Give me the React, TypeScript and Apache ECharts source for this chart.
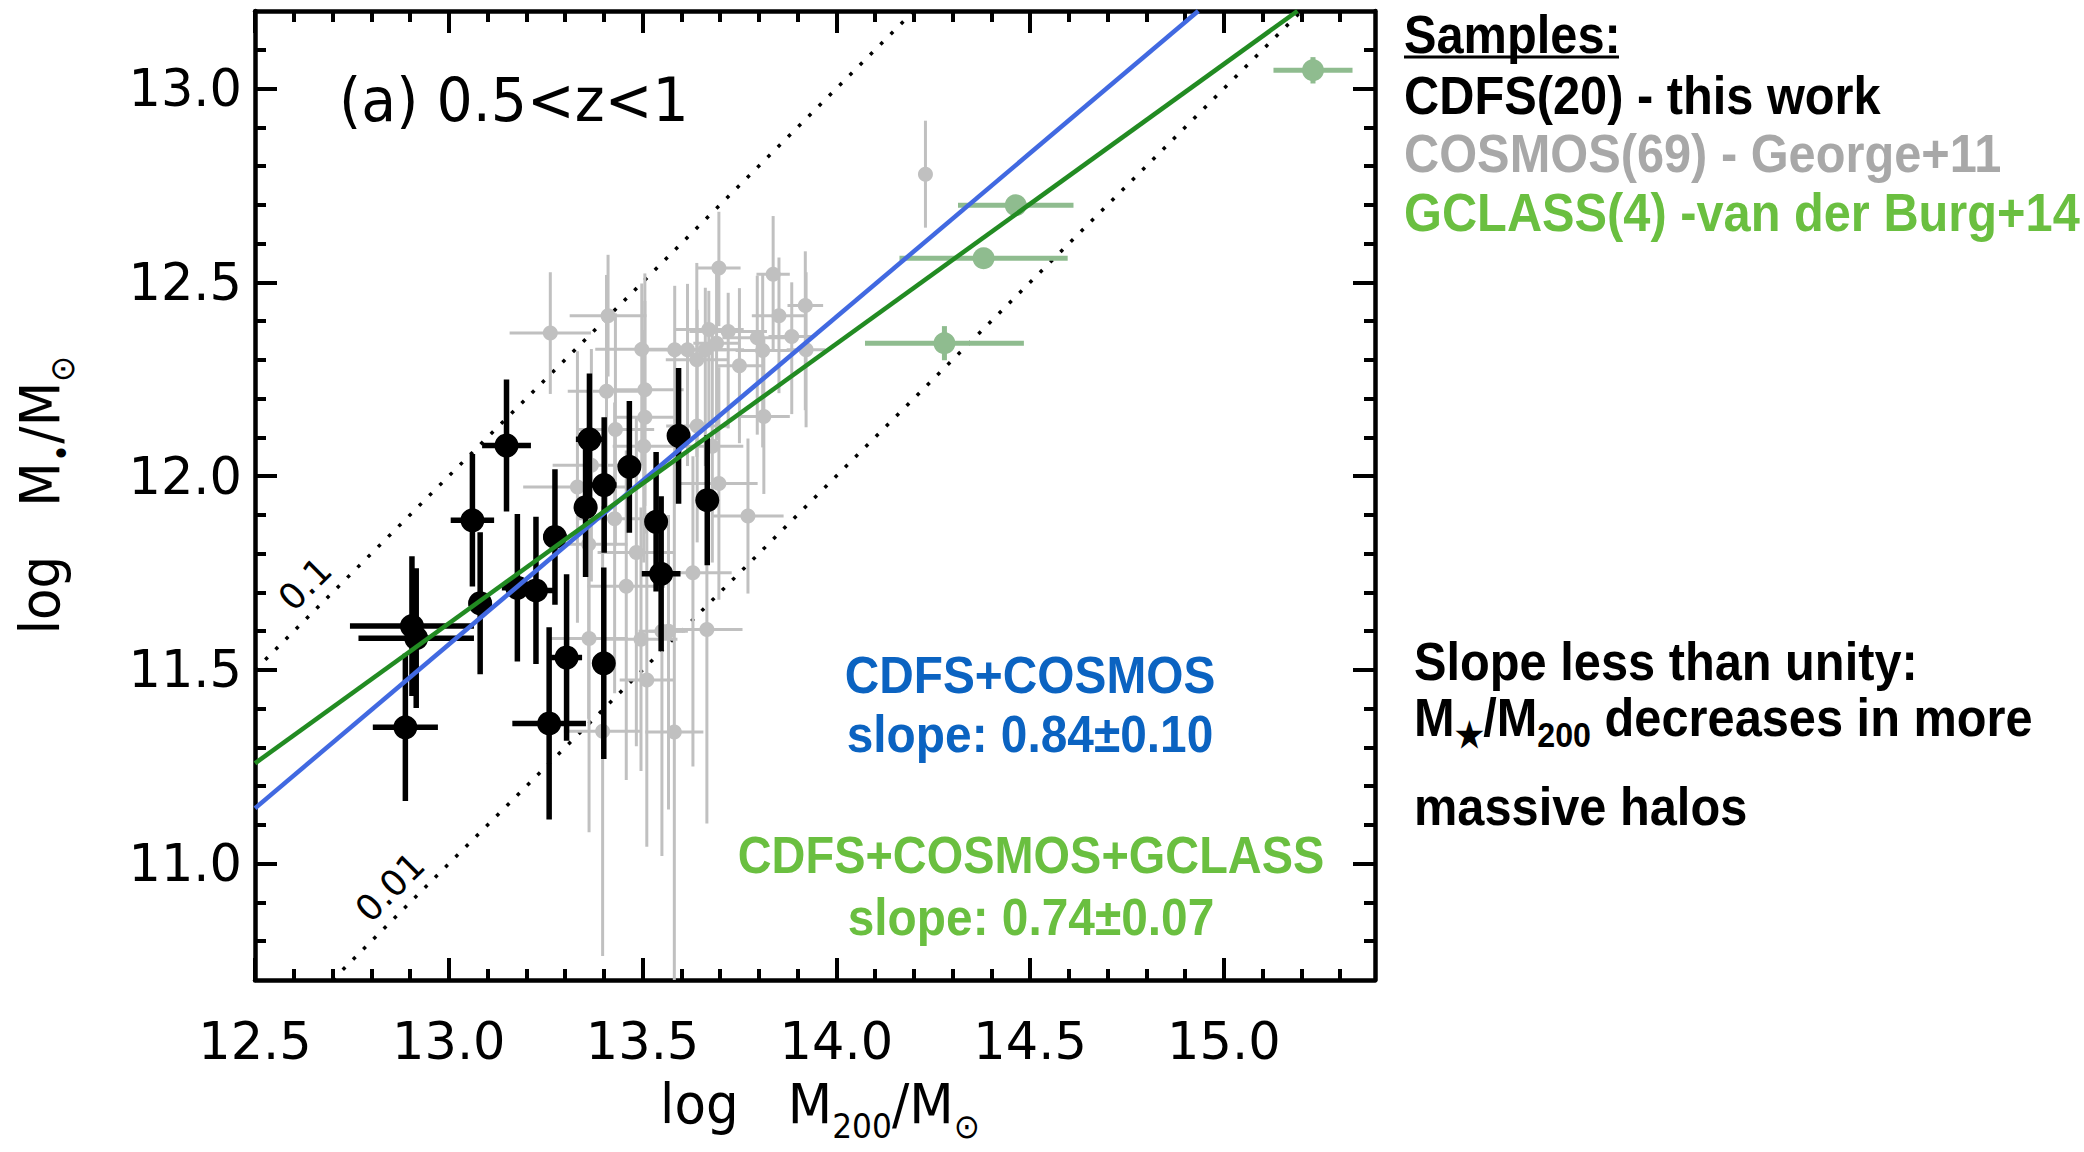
import React, { useEffect, useRef } from 'react';
import * as echarts from 'echarts';

// ---------- axes ----------
const X_MIN = 12.5;
const X_MAX = 15.39;
const Y_MIN = 10.7;
const Y_MAX = 13.2;
const xMajorTicks = [12.5, 13.0, 13.5, 14.0, 14.5, 15.0];
const xMinorTicks = [12.6, 12.7, 12.8, 12.9, 13.1, 13.2, 13.3, 13.4, 13.6, 13.7, 13.8, 13.9, 14.1, 14.2, 14.3, 14.4, 14.6, 14.7, 14.8, 14.9, 15.1, 15.2, 15.3];
const yMajorTicks = [11.0, 11.5, 12.0, 12.5, 13.0];
const yMinorTicks = [10.8, 10.9, 11.1, 11.2, 11.3, 11.4, 11.6, 11.7, 11.8, 11.9, 12.1, 12.2, 12.3, 12.4, 12.6, 12.7, 12.8, 12.9, 13.1];

// ---------- CDFS (this work) ----------
const cdfsX = [13.149, 13.061, 13.363, 13.353, 13.401, 13.466, 13.593, 13.535, 13.548, 13.667, 13.274, 13.225, 13.177, 13.081, 12.905, 12.916, 12.888, 13.304, 13.400, 13.259];
const cdfsY = [12.079, 11.886, 12.095, 11.920, 11.977, 12.024, 12.104, 11.882, 11.748, 11.938, 11.843, 11.705, 11.712, 11.672, 11.613, 11.582, 11.352, 11.532, 11.517, 11.362];
const cdfsXErr = [0.063, 0.056, 0.035, 0.03, 0.032, 0.02, 0.02, 0.02, 0.05, 0.01, 0.03, 0.05, 0.04, 0.03, 0.16, 0.149, 0.084, 0.04, 0.01, 0.095];
const cdfsYErr = [0.17, 0.171, 0.17, 0.18, 0.175, 0.17, 0.175, 0.18, 0.2, 0.168, 0.175, 0.19, 0.19, 0.183, 0.18, 0.18, 0.19, 0.215, 0.247, 0.248];

// ---------- COSMOS (George+11) ----------
const cosmosX = [13.262, 13.411, 13.697, 13.837, 13.920, 13.852, 13.671, 13.721, 13.796, 13.885, 13.498, 13.583, 13.616, 13.662, 13.691, 13.810, 13.922, 13.750, 13.407, 13.506, 13.506, 13.813, 13.430, 13.641, 13.332, 13.368, 13.697, 13.428, 13.361, 13.484, 13.458, 13.630, 13.362, 13.496, 13.666, 13.511, 13.397, 13.582, 13.772, 14.230, 13.503, 13.640, 13.680, 13.550, 13.567];
const cosmosY = [12.369, 12.414, 12.537, 12.521, 12.440, 12.414, 12.378, 12.373, 12.357, 12.360, 12.327, 12.326, 12.326, 12.326, 12.343, 12.324, 12.326, 12.285, 12.219, 12.223, 12.152, 12.154, 12.120, 12.129, 11.972, 12.028, 11.981, 11.890, 11.824, 11.803, 11.716, 11.751, 11.581, 11.579, 11.604, 11.474, 11.342, 11.340, 11.897, 12.779, 12.077, 12.300, 12.077, 11.600, 11.600];
const cosmosXErr = [0.105, 0.099, 0.056, 0.043, 0.046, 0.07, 0.09, 0.1, 0.09, 0.06, 0.12, 0.1, 0.1, 0.1, 0.06, 0.07, 0.05, 0.06, 0.1, 0.1, 0.08, 0.067, 0.1, 0.08, 0.14, 0.1, 0.1, 0.1, 0.1, 0.1, 0.1, 0.1, 0.1, 0.094, 0.092, 0.07, 0.1, 0.075, 0.092, 0.01, 0.08, 0.08, 0.08, 0.06, 0.05];
const cosmosYErrLo = [0.157, 0.157, 0.15, 0.2, 0.27, 0.2, 0.25, 0.25, 0.25, 0.2, 0.3, 0.3, 0.3, 0.3, 0.25, 0.25, 0.2, 0.2, 0.3, 0.3, 0.3, 0.2, 0.3, 0.3, 0.35, 0.3, 0.3, 0.45, 0.45, 0.5, 0.5, 0.5, 0.5, 0.34, 0.5, 0.43, 0.58, 0.7, 0.2, 0.138, 0.3, 0.25, 0.3, 0.58, 0.46];
const cosmosYErrHi = [0.157, 0.157, 0.145, 0.15, 0.14, 0.15, 0.1, 0.1, 0.16, 0.14, 0.17, 0.165, 0.17, 0.16, 0.2, 0.2, 0.2, 0.2, 0.3, 0.3, 0.3, 0.2, 0.3, 0.3, 0.35, 0.3, 0.3, 0.3, 0.3, 0.35, 0.35, 0.3, 0.4, 0.34, 0.35, 0.43, 0.58, 0.7, 0.2, 0.138, 0.3, 0.25, 0.3, 0.3, 0.3];

// ---------- GCLASS (van der Burg+14) ----------
const gclassX = [15.230, 14.463, 14.380, 14.279];
const gclassY = [13.047, 12.699, 12.562, 12.343];
const gclassXErr = [0.102, 0.149, 0.217, 0.205];
const gclassYErr = [0.034, 0.02, 0.02, 0.044];

// ---------- lines ----------
const fitCosmosLine = [[12.5, 11.143], [14.934, 13.2]];
const fitAllLine = [[12.5, 11.259], [15.19, 13.2]];
const ratio01Line = [[12.5, 11.5], [14.2, 13.2]];
const ratio001Line = [[12.7, 10.7], [15.2, 13.2]];

const TICK_FONT = 'DejaVu Sans';
const TEXT_FONT = 'Liberation Sans';

function errRender(color: string, width: number) {
  return (params: any, api: any) => {
    const x = api.value(0);
    const y = api.value(1);
    const xe = api.value(2);
    const ylo = api.value(3);
    const yhi = api.value(4);
    const cs = params.coordSys;
    const cx = (p: number) => Math.max(cs.x, Math.min(cs.x + cs.width, p));
    const cy = (p: number) => Math.max(cs.y, Math.min(cs.y + cs.height, p));
    const a = api.coord([x - xe, y]);
    const b = api.coord([x + xe, y]);
    const c = api.coord([x, y - ylo]);
    const d = api.coord([x, y + yhi]);
    return {
      type: 'group',
      children: [
        { type: 'line', shape: { x1: cx(a[0]), y1: a[1], x2: cx(b[0]), y2: b[1] }, style: { stroke: color, lineWidth: width } },
        { type: 'line', shape: { x1: c[0], y1: cy(c[1]), x2: d[0], y2: cy(d[1]) }, style: { stroke: color, lineWidth: width } },
      ],
    };
  };
}

// bold annotation text (Helvetica-like, slightly condensed)
function txt(text: string, x: number, y: number, style: any, extra: any = {}) {
  return {
    type: 'text',
    x,
    y,
    silent: true,
    z: 100,
    scaleX: 0.92,
    ...extra,
    style: { text, align: 'left', verticalAlign: 'middle', fontFamily: TEXT_FONT, fontWeight: 'bold', fontSize: 53, fill: '#000', ...style },
  };
}

export default function App() {
  const ref = useRef<HTMLDivElement>(null);
  useEffect(() => {
    if (!ref.current) return;
    const chart = echarts.init(ref.current, undefined, { renderer: 'svg' });
    const frame = { show: true, onZero: false, lineStyle: { color: '#000', width: 4.5 } };
    const base = { type: 'value', min: X_MIN, max: X_MAX, splitLine: { show: false } };
    const baseY = { type: 'value', min: Y_MIN, max: Y_MAX, splitLine: { show: false } };
    const major = (vals: number[]) => ({ show: true, inside: true, length: 22, customValues: vals, lineStyle: { color: '#000', width: 4 } });
    const minor = (vals: number[]) => ({ show: true, inside: true, length: 11, customValues: vals, lineStyle: { color: '#000', width: 4 } });
    const noLabel = { show: false };

    const cosmosErr = cosmosX.map((x, i) => [x, cosmosY[i], cosmosXErr[i], cosmosYErrLo[i], cosmosYErrHi[i]]);
    const cdfsErr = cdfsX.map((x, i) => [x, cdfsY[i], cdfsXErr[i], cdfsYErr[i], cdfsYErr[i]]);
    const gclassErr = gclassX.map((x, i) => [x, gclassY[i], gclassXErr[i], gclassYErr[i], gclassYErr[i]]);

    const subRich = (size: number, subSize: number, font: string, weight: string, color: string, pad: number) => ({
      t: { fontSize: size, fontFamily: font, fontWeight: weight, fill: color, lineHeight: size + 4, padding: [0, 0, pad, 0], verticalAlign: 'bottom' },
      s: { fontSize: subSize, fontFamily: font, fontWeight: weight, fill: color, lineHeight: subSize + 2, verticalAlign: 'bottom' },
    });

    const tickLabel = { show: true, formatter: (v: number) => v.toFixed(1), fontFamily: TICK_FONT, fontSize: 51, color: '#000' };

    chart.setOption({
      animation: false,
      backgroundColor: '#fff',
      grid: { left: 255, top: 11, width: 1120, height: 969, containLabel: false },
      xAxis: [
        { ...base, position: 'bottom', axisLine: frame, axisTick: major(xMajorTicks), axisLabel: { ...tickLabel, customValues: xMajorTicks, margin: 36 } },
        { ...base, position: 'bottom', axisLine: { show: false }, axisTick: minor(xMinorTicks), axisLabel: noLabel },
        { ...base, position: 'top', axisLine: frame, axisTick: major(xMajorTicks), axisLabel: noLabel },
        { ...base, position: 'top', axisLine: { show: false }, axisTick: minor(xMinorTicks), axisLabel: noLabel },
      ],
      yAxis: [
        { ...baseY, position: 'left', axisLine: frame, axisTick: major(yMajorTicks), axisLabel: { ...tickLabel, customValues: yMajorTicks, margin: 13 } },
        { ...baseY, position: 'left', axisLine: { show: false }, axisTick: minor(yMinorTicks), axisLabel: noLabel },
        { ...baseY, position: 'right', axisLine: frame, axisTick: major(yMajorTicks), axisLabel: noLabel },
        { ...baseY, position: 'right', axisLine: { show: false }, axisTick: minor(yMinorTicks), axisLabel: noLabel },
      ],
      series: [
        { type: 'line', data: ratio01Line, symbol: 'none', silent: true, z: 1, lineStyle: { color: '#000', width: 3.5, type: [3.5, 11] } },
        { type: 'line', data: ratio001Line, symbol: 'none', silent: true, z: 1, lineStyle: { color: '#000', width: 3.5, type: [3.5, 11] } },
        { type: 'custom', name: 'cosmosErr', data: cosmosErr, encode: { x: 0, y: 1 }, renderItem: errRender('#c0c0c0', 3), z: 2, silent: true },
        { type: 'scatter', name: 'COSMOS', data: cosmosX.map((x, i) => [x, cosmosY[i]]), symbol: 'circle', symbolSize: 15, itemStyle: { color: '#c0c0c0', opacity: 1 }, z: 3, silent: true },
        { type: 'custom', name: 'gclassErr', data: gclassErr, encode: { x: 0, y: 1 }, renderItem: errRender('#8fbc8f', 5), z: 4, silent: true },
        { type: 'scatter', name: 'GCLASS', data: gclassX.map((x, i) => [x, gclassY[i]]), symbol: 'circle', symbolSize: 22, itemStyle: { color: '#8fbc8f', opacity: 1 }, z: 5, silent: true },
        { type: 'custom', name: 'cdfsErr', data: cdfsErr, encode: { x: 0, y: 1 }, renderItem: errRender('#000', 5.5), z: 6, silent: true },
        { type: 'scatter', name: 'CDFS', data: cdfsX.map((x, i) => [x, cdfsY[i]]), symbol: 'circle', symbolSize: 24, itemStyle: { color: '#000', opacity: 1 }, z: 7, silent: true },
        { type: 'line', data: fitCosmosLine, symbol: 'none', silent: true, z: 8, lineStyle: { color: '#4169e1', width: 4.5 } },
        { type: 'line', data: fitAllLine, symbol: 'none', silent: true, z: 8, lineStyle: { color: '#228b22', width: 4.5 } },
      ],
      graphic: [
        // axis titles
        {
          type: 'text', x: 820, y: 1114, scaleX: 0.92, silent: true,
          style: { text: '{t|log   M}{s|200}{t|/M}{s|\u2299}', align: 'center', verticalAlign: 'middle', rich: subRich(56, 34, TICK_FONT, 'normal', '#000', 12) },
        },
        {
          type: 'text', x: 50, y: 495, rotation: Math.PI / 2, scaleX: 0.92, silent: true,
          style: { text: '{t|log   M}{s|\u2022}{t|/M}{s|\u2299}', align: 'center', verticalAlign: 'middle', rich: subRich(56, 34, TICK_FONT, 'normal', '#000', 12) },
        },
        // panel label
        txt('(a) 0.5<z<1', 339, 100, { fontFamily: TICK_FONT, fontWeight: 'normal', fontSize: 60 }, { scaleX: 0.95 }),
        // ratio labels
        txt('0.1', 305, 584, { fontFamily: TICK_FONT, fontWeight: 'normal', fontSize: 36, align: 'center' }, { rotation: Math.PI / 4, scaleX: 1 }),
        txt('0.01', 390, 887, { fontFamily: TICK_FONT, fontWeight: 'normal', fontSize: 36, align: 'center' }, { rotation: Math.PI / 4, scaleX: 1 }),
        // fit annotations
        txt('CDFS+COSMOS', 1030, 675, { fill: '#0b63c1', align: 'center', fontSize: 52 }),
        txt('slope: 0.84\u00b10.10', 1030, 734, { fill: '#0b63c1', align: 'center', fontSize: 52 }),
        txt('CDFS+COSMOS+GCLASS', 1031, 855, { fill: '#6abf40', align: 'center', fontSize: 51 }),
        txt('slope: 0.74\u00b10.07', 1031, 917, { fill: '#6abf40', align: 'center', fontSize: 52 }),
        // samples legend
        txt('Samples:', 1404, 35, {}),
        { type: 'line', silent: true, shape: { x1: 1404, y1: 57, x2: 1619, y2: 57 }, style: { stroke: '#000', lineWidth: 3 } },
        txt('CDFS(20) - this work', 1404, 96, {}),
        txt('COSMOS(69) - George+11', 1404, 154, { fill: '#a8a8a8' }),
        txt('GCLASS(4) -van der Burg+14', 1404, 213, { fill: '#6abf40' }),
        // conclusion
        txt('Slope less than unity:', 1414, 662, {}),
        {
          type: 'text', x: 1414, y: 724, scaleX: 0.92, silent: true,
          style: { text: '{t|M}{s|\u2605}{t|/M}{s|200}{t| decreases in more}', align: 'left', verticalAlign: 'middle', rich: subRich(53, 35, TEXT_FONT, 'bold', '#000', 8) },
        },
        txt('massive halos', 1414, 807, {}),
      ],
    });
    return () => chart.dispose();
  }, []);
  return <div ref={ref} style={{ position: 'absolute', left: 0, top: 0, width: 2084, height: 1152, background: '#fff' }} />;
}
